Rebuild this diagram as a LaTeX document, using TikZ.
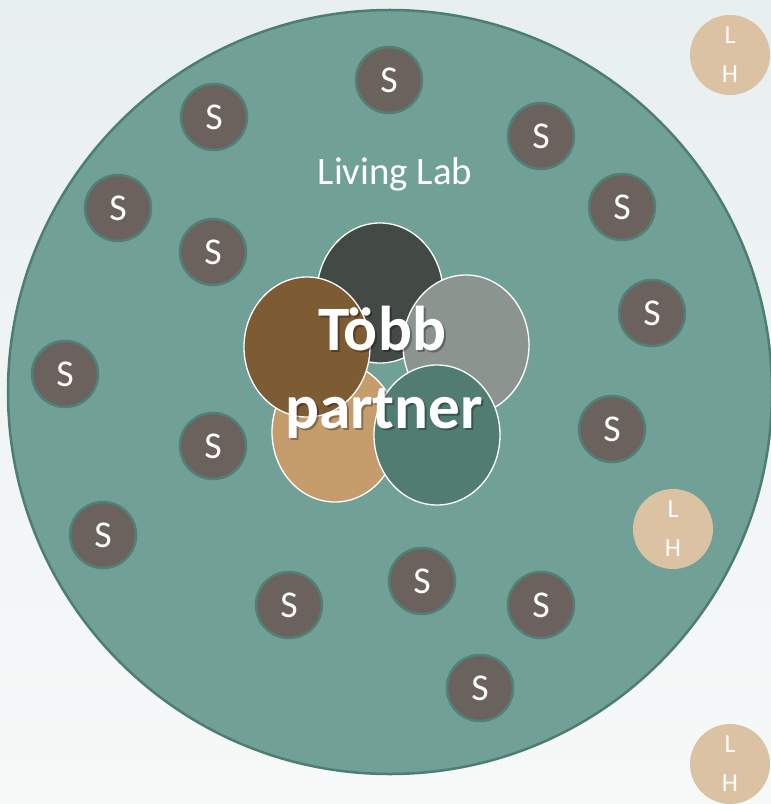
\documentclass[tikz,border=0pt]{standalone}
\usepackage{fontspec}
\setmainfont{Carlito}
\usetikzlibrary{shapes.geometric}
\definecolor{bgtop}{HTML}{E8EFEF}
\definecolor{bgbot}{HTML}{F7F9F9}
\definecolor{labfill}{HTML}{70A096}
\definecolor{labline}{HTML}{4E7D72}
\definecolor{sfill}{HTML}{6B625D}
\definecolor{sline}{HTML}{528076}
\definecolor{lhfill}{HTML}{DBC2A3}
\definecolor{pdark}{HTML}{434A45}
\definecolor{pbrown}{HTML}{7D5B33}
\definecolor{plight}{HTML}{8B948E}
\definecolor{ptan}{HTML}{C59D6D}
\definecolor{pteal}{HTML}{517C71}
\tikzset{
  sbox/.style={circle, fill=sfill, draw=sline, line width=2.5bp, minimum size=66bp, inner sep=0pt, text=white, font=\fontsize{38}{40}\selectfont},
  lhbox/.style={circle, fill=lhfill, minimum size=80bp, inner sep=0pt, text=white, align=center, font=\fontsize{26}{39}\selectfont},
  petal/.style={ellipse, draw=white, line width=1.3bp, minimum width=126bp, minimum height=140bp, inner sep=0pt},
  bigtxt/.style={anchor=base, text=white, font=\bfseries\fontsize{63.5}{78}\selectfont},
  shadowtxt/.style={anchor=base, text=black, opacity=0.3, font=\bfseries\fontsize{63.5}{78}\selectfont}
}
\begin{document}
\begin{tikzpicture}[x=1bp, y=-1bp]
\useasboundingbox (0,0) rectangle (771,804);
\begin{scope}
\clip (0,0) rectangle (771,804);
\shade[top color=bgtop, bottom color=bgbot] (0,0) rectangle (771,804);
% Living Lab circle
\node[circle, fill=labfill, draw=labline, line width=2.5bp, minimum size=764bp, inner sep=0pt] (lab) at (390,392) {};
\end{scope}
\node[text=white, anchor=base, font=\fontsize{39}{40}\selectfont] (labtxt) at (395,184) {Living Lab};
% stakeholders
\foreach \n/\x/\y in {s1/389/80, s2/214/117, s3/541/136, s4/118/208, s5/622/207, s6/213/252, s7/652/313, s8/65/374, s9/612/429, s10/213/446, s11/103/535, s12/422/581, s13/289/605, s14/541/605, s15/480/688}
  \node[sbox] (\n) at (\x,\y) {S};
% LH circles
\node[lhbox] (lh1) at (730,55) {L\\H};
\node[lhbox] (lh2) at (673,529) {L\\H};
\node[lhbox] (lh3) at (730,764) {L\\H};
% petals
\node[petal, fill=pdark] (pa) at (380,293) {};
\node[petal, fill=ptan] (pb) at (335,432) {};
\node[petal, fill=plight] (pc) at (466,345) {};
\node[petal, fill=pbrown] (pd) at (307,347) {};
\node[petal, fill=pteal] (pe) at (437,435) {};
% central text with shadow
\node[shadowtxt] (sh1) at (384,352) {Több};
\node[shadowtxt] (sh2) at (386,430) {partner};
\node[bigtxt] (t1) at (382,350) {Több};
\node[bigtxt] (t2) at (384,428) {partner};
\end{tikzpicture}
\end{document}
